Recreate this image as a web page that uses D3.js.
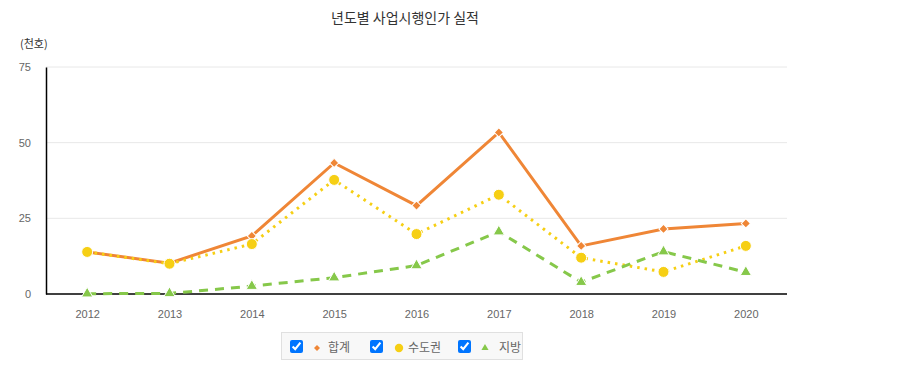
<!DOCTYPE html>
<html>
<head>
<meta charset="utf-8">
<script src="https://cdn.jsdelivr.net/npm/d3@7"></script>
<style>
  body { margin: 0; background: #fff; font-family: "Noto Sans CJK KR", "Noto Sans", sans-serif; }
  #chart { position: relative; width: 908px; height: 389px; }
  .legend {
    position: absolute; left: 281px; top: 332px; width: 242px; height: 28px;
    background: #f8f8f8; border: 1px solid #e0e0e0; box-sizing: border-box;
    font-size: 12px; color: #666;
  }
  .legend label { position: absolute; top: 0; height: 28px; line-height: 28px; white-space: nowrap; }
  .legend input { position: absolute; left: 0; top: 7px; width: 13px; height: 13px; margin: 0; accent-color: #0075ff; }
  .legend svg { position: absolute; top: 9px; }
  .legend span { position: absolute; top: 0; }
</style>
</head>
<body>
<div id="chart"></div>
<script>
var years = ["2012", "2013", "2014", "2015", "2016", "2017", "2018", "2019", "2020"];
var seriesNames = ["합계", "수도권", "지방"];
var total =   [13.9, 10.2, 19.2, 43.3, 29.2, 53.4, 15.9, 21.5, 23.3];
var capital = [13.9, 10.0, 16.5, 37.7, 19.8, 32.8, 12.0, 7.3, 15.9];
var local =   [0.1, 0.2, 2.6, 5.4, 9.4, 20.6, 3.9, 14.0, 7.2];
var yTicks = [0, 25, 50, 75];

var colors = ["#ef8636", "#f6cf14", "#86c84a"];
var W = 908, H = 389;
var margin = {top: 67, right: 121, bottom: 95, left: 46},
    width = W - margin.left - margin.right,
    height = H - margin.top - margin.bottom;

var root = d3.select("#chart");
var svg = root.append("svg").attr("width", W).attr("height", H)
  .style("position", "absolute").style("left", 0).style("top", 0);

// title
svg.append("text").text("년도별 사업시행인가 실적")
  .attr("x", 405).attr("y", 23).attr("text-anchor", "middle")
  .style("font-size", "14px").style("fill", "#333");
svg.append("text").text("(천호)")
  .attr("x", 20).attr("y", 48)
  .style("font-size", "11px").style("fill", "#333");

var g = svg.append("g").attr("transform", "translate(" + margin.left + "," + margin.top + ")");

var x = d3.scalePoint().domain(years).range([0, width]).padding(0.5);
var y = d3.scaleLinear().domain([0, 75]).range([height, 0]);

// grid
g.append("g").selectAll("line").data(yTicks.filter(function(d) { return d > 0; }))
  .enter().append("line")
  .attr("x1", 0).attr("x2", width)
  .attr("y1", function(d) { return y(d); }).attr("y2", function(d) { return y(d); })
  .attr("stroke", "#e8e8e8").attr("stroke-width", 1);

// y axis
var yAxis = g.append("g").call(d3.axisLeft(y).tickValues(yTicks).tickSize(0).tickPadding(15));
yAxis.select(".domain").attr("stroke", "#000").attr("stroke-width", 1.5);
yAxis.selectAll("text").style("font-size", "11px").style("fill", "#666")
  .style("font-family", "Arial, 'Liberation Sans', sans-serif");

// x axis
var xAxis = g.append("g").attr("transform", "translate(0," + height + ")")
  .call(d3.axisBottom(x).tickSize(0).tickPadding(16));
xAxis.select(".domain").attr("stroke", "#000").attr("stroke-width", 1.5).attr("d", "M0,0H" + width);
xAxis.selectAll("text").style("font-size", "11px").style("fill", "#666")
  .style("font-family", "Arial, 'Liberation Sans', sans-serif");

var line = d3.line().x(function(d, i) { return x(years[i]); }).y(function(d) { return y(d); });

var series = [
  {vals: total, dash: null, sym: d3.symbolSquare, size: 42, rot: 45},
  {vals: capital, dash: "2.5,5", sym: d3.symbolCircle, size: 95, rot: 0},
  {vals: local, dash: "9,7", sym: d3.symbolTriangle, size: 55, rot: 0}
];

// lines first, then markers
series.forEach(function(s, k) {
  g.append("path").datum(s.vals)
    .attr("fill", "none").attr("stroke", colors[k]).attr("stroke-width", 3)
    .attr("stroke-dasharray", s.dash)
    .attr("d", line);
});
series.forEach(function(s, k) {
  g.selectAll(".m" + k).data(s.vals).enter().append("path")
    .attr("class", "m" + k)
    .attr("transform", function(d, i) { return "translate(" + x(years[i]) + "," + y(d) + ") rotate(" + s.rot + ")"; })
    .attr("d", d3.symbol().type(s.sym).size(s.size))
    .attr("fill", colors[k]).attr("stroke", "#fff").attr("stroke-width", 1);
});

// legend
var legend = root.append("div").attr("class", "legend");
var legPos = [8, 88, 176];
var legSym = [d3.symbolSquare, d3.symbolCircle, d3.symbolTriangle];
var legSize = [18, 55, 22];
var legRot = [45, 0, 0];
var legText = [46, 126, 217];
seriesNames.forEach(function(name, k) {
  var lab = legend.append("label").style("left", legPos[k] + "px");
  lab.append("input").attr("type", "checkbox").property("checked", true);
  var s = lab.append("svg").attr("width", 12).attr("height", 12)
    .style("left", (k == 1 ? 23 : 21) + "px");
  s.append("path").attr("transform", "translate(6,6) rotate(" + legRot[k] + ")")
    .attr("d", d3.symbol().type(legSym[k]).size(legSize[k]))
    .attr("fill", colors[k]);
  lab.append("span").text(name).style("left", (legText[k] - legPos[k]) + "px");
});
</script>
</body>
</html>
